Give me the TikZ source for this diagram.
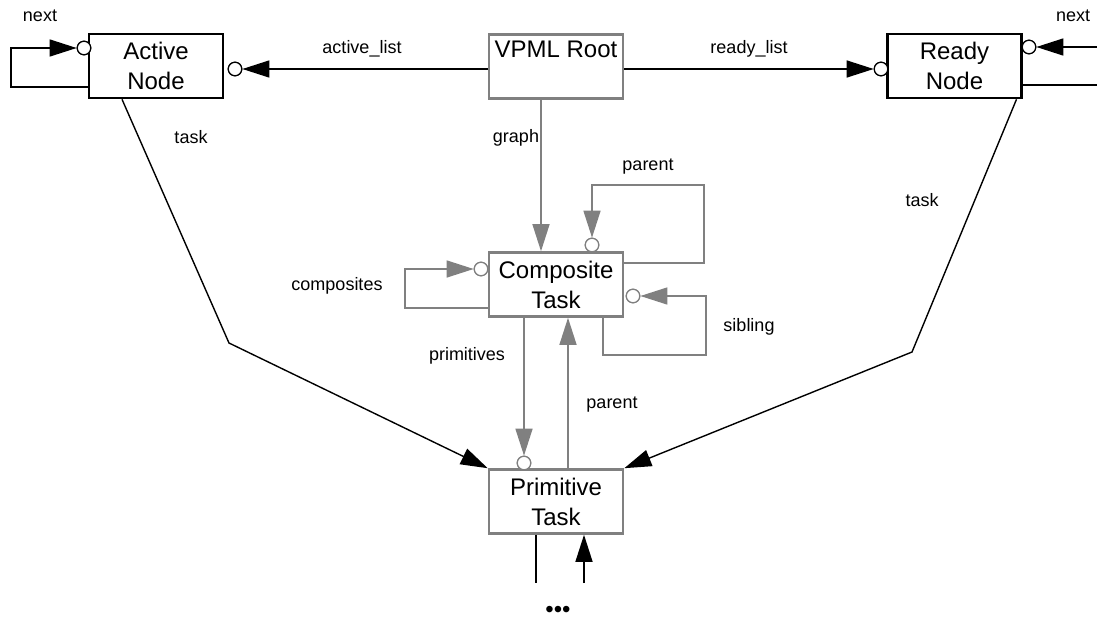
\documentclass[tikz,border=0pt]{standalone}
\usepackage{fontspec}
\setmainfont{Liberation Sans}
\usetikzlibrary{arrows.meta,calc}
\definecolor{gr}{gray}{0.5}
\begin{document}
\begin{tikzpicture}[x=1pt,y=-1pt,
 box/.style={draw, line width=2.6pt, minimum width=134pt, minimum height=64pt, inner sep=0pt, align=center, font=\fontsize{24}{30}\selectfont},
 bbox/.style={box, draw=black},
 gbox/.style={box, draw=gr},
 port/.style={circle, draw=black, fill=white, line width=1.2pt, minimum size=13.5pt, inner sep=0pt},
 gport/.style={port, draw=gr},
 lbl/.style={font=\fontsize{18}{22}\selectfont, inner sep=0pt, anchor=base},
 blk/.style={line width=1.4pt, draw=black},
 gry/.style={line width=1.4pt, draw=gr},
 tip/.style={-{Triangle[length=27pt,width=17pt]}},
 gtip/.style={-{Triangle[length=27pt,width=17pt]}, gr},
]
\useasboundingbox (0,0) rectangle (1097,621);
% boxes
\node[bbox] (active) at (156,66) {Active\\Node};
\node[bbox] (ready) at (954.5,66) {Ready\\Node};
\node[gbox] (root) at (556,66.5) {};
\node[font=\fontsize{24}{30}\selectfont, inner sep=0pt, anchor=base] (roottxt) at (556,57) {VPML Root};
\node[gbox] (comp) at (556,284.5) {Composite\\Task};
\node[gbox] (prim) at (556,501.5) {Primitive\\Task};
% ports
\node[port] (aL) at (84,48) {};
\node[port] (aR) at (235,69) {};
\node[port] (rL) at (881,69) {};
\node[port] (rR) at (1029,47) {};
\node[gport] (cT) at (592,245) {};
\node[gport] (cL) at (481,269) {};
\node[gport] (cR) at (633,296) {};
\node[gport] (pT) at (524,463) {};
% free ends
\coordinate (rin) at (1097,47);
\coordinate (rout) at (1097,85);
\coordinate (bout) at (536,583);
\coordinate (bin) at (584,583);
% black connectors
\draw[blk,tip] ([yshift=-21pt]active.west) -- (11,87) -- (11,48) -- (aL);
\draw[blk,tip] (root.west |- aR) -- (aR);
\draw[blk,tip] (root.east |- rL) -- (rL);
\draw[blk,tip] (rin) -- (rR);
\draw[blk] ([yshift=-19pt]ready.east) -- (rout);
\draw[blk,tip] ([xshift=-34pt]active.south) -- (229,343) -- (prim.north west);
\draw[blk,tip] ([xshift=62pt]ready.south) -- (912,352) -- (prim.north east);
\draw[blk] (prim.south -| bout) -- (bout);
\draw[blk,tip] (bin) -- (prim.south -| bin);
% gray connectors
\draw[gry,gtip] ([xshift=-15pt]root.south) -- ([xshift=-15pt]comp.north);
\draw[gry,gtip] ([yshift=21.5pt]comp.east) -- (704,263) -- (704,185) -- (592,185) -- (cT);
\draw[gry,gtip] ([yshift=-23.5pt]comp.west) -- (405,308) -- (405,269) -- (cL);
\draw[gry,gtip] ([xshift=47pt]comp.south) -- (603,355) -- (706,355) -- (706,296) -- (cR);
\draw[gry,gtip] (comp.south -| pT) -- (pT);
\draw[gry,gtip] ([xshift=12pt]prim.north) -- ([xshift=12pt]comp.south);
% redraw ports on top
\node[port] at (aL) {};
\node[port] at (aR) {};
\node[port] at (rL) {};
\node[port] at (rR) {};
\node[gport] at (cT) {};
\node[gport] at (cL) {};
\node[gport] at (cR) {};
\node[gport] at (pT) {};
% labels
\node[lbl] (l1) at (40,21) {next};
\node[lbl] (l2) at (1073,21) {next};
\node[lbl] (l3) at (362,53) {active\_list};
\node[lbl] (l4) at (749,53) {ready\_list};
\node[lbl] (l5) at (191,143) {task};
\node[lbl] (l6) at (922,206) {task};
\node[lbl] (l7) at (516,142) {graph};
\node[lbl] (l8) at (648,170) {parent};
\node[lbl] (l9) at (337,290) {composites};
\node[lbl] (l10) at (749,331) {sibling};
\node[lbl] (l11) at (467,360) {primitives};
\node[lbl] (l12) at (612,408) {parent};
\node[font=\fontsize{24}{28}\selectfont, inner sep=0pt, anchor=base] (dots) at (558,617.5) {•••};
\end{tikzpicture}
\end{document}
